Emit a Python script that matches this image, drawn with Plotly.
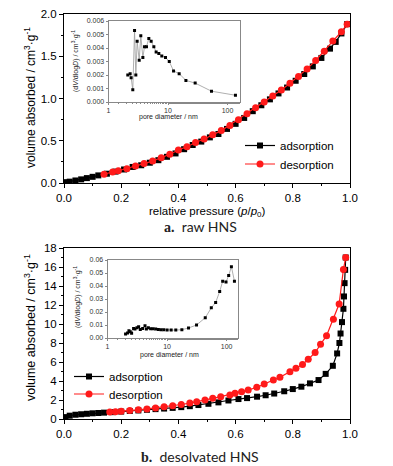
import plotly.graph_objects as go

W, H = 393, 466

# ---- data: raw HNS isotherm ----
top_ads_p = [0.01, 0.02, 0.04, 0.06, 0.08, 0.10, 0.12, 0.15, 0.18, 0.21, 0.24, 0.27, 0.30, 0.33,
             0.36, 0.39, 0.42, 0.45, 0.48, 0.51, 0.54, 0.57, 0.60, 0.63, 0.66, 0.69, 0.72, 0.75,
             0.78, 0.81, 0.84, 0.87, 0.90, 0.93, 0.95, 0.97, 0.99]
top_ads_v = [0.01, 0.016, 0.03, 0.043, 0.058, 0.073, 0.09, 0.11, 0.135, 0.16, 0.19, 0.21, 0.24, 0.27,
             0.31, 0.35, 0.40, 0.45, 0.49, 0.54, 0.58, 0.64, 0.70, 0.77, 0.85, 0.92, 0.99, 1.06,
             1.13, 1.21, 1.29, 1.38, 1.48, 1.59, 1.67, 1.77, 1.88]
top_des_p = [0.99, 0.97, 0.94, 0.91, 0.88, 0.85, 0.82, 0.79, 0.76, 0.73, 0.70, 0.67, 0.64, 0.61,
             0.58, 0.55, 0.52, 0.49, 0.46, 0.43, 0.40, 0.37, 0.34, 0.31, 0.28, 0.25, 0.22, 0.19,
             0.17, 0.14]
top_des_v = [1.88, 1.79, 1.68, 1.56, 1.45, 1.35, 1.26, 1.18, 1.10, 1.03, 0.96, 0.89, 0.82, 0.75,
             0.68, 0.62, 0.57, 0.52, 0.48, 0.43, 0.39, 0.34, 0.30, 0.26, 0.23, 0.20, 0.17, 0.145,
             0.13, 0.105]

# ---- data: desolvated HNS isotherm ----
bot_ads_p = [0.005, 0.02, 0.04, 0.06, 0.08, 0.10, 0.12, 0.14, 0.17, 0.20, 0.23, 0.26, 0.29, 0.32,
             0.35, 0.38, 0.41, 0.44, 0.47, 0.505, 0.54, 0.575, 0.61, 0.64, 0.675, 0.705, 0.735,
             0.77, 0.80, 0.83, 0.86, 0.89, 0.915, 0.94, 0.955, 0.963, 0.967, 0.972, 0.977, 0.979,
             0.981, 0.983, 0.985]
bot_ads_v = [0.2, 0.35, 0.45, 0.5, 0.55, 0.6, 0.63, 0.67, 0.72, 0.78, 0.84, 0.9, 0.97, 1.04,
             1.1, 1.17, 1.25, 1.35, 1.47, 1.6, 1.75, 1.95, 2.1, 2.2, 2.35, 2.5, 2.68,
             2.92, 3.15, 3.4, 3.75, 4.1, 4.75, 5.6, 6.9, 8.0, 9.0, 10.2, 11.6, 12.9,
             14.3, 15.7, 17.0]
bot_des_p = [0.985, 0.977, 0.962, 0.942, 0.918, 0.897, 0.878, 0.854, 0.834, 0.811, 0.79, 0.755,
             0.732, 0.70, 0.674, 0.644, 0.621, 0.598, 0.58, 0.548, 0.52, 0.493, 0.464, 0.44,
             0.41, 0.38, 0.35, 0.32, 0.29, 0.26, 0.23, 0.20, 0.18, 0.16]
bot_des_v = [17.0, 15.75, 12.1, 10.5, 8.77, 7.86, 7.0, 6.28, 5.75, 5.33, 4.98, 4.39,
             4.1, 3.68, 3.33, 3.05, 2.88, 2.7, 2.53, 2.35, 2.18, 2.0, 1.82, 1.68,
             1.53, 1.4, 1.28, 1.16, 1.06, 0.97, 0.89, 0.82, 0.77, 0.74]

# ---- data: pore size distributions (insets) ----
top_pd = [2.11, 2.31, 2.40, 2.56, 2.74, 2.88, 3.03, 3.28, 3.49, 3.78, 4.03, 4.35, 4.76, 5.21,
          5.78, 6.32, 7.01, 7.87, 9.08, 10.5, 12.4, 15.4, 20.0, 28.6, 53.8, 136]
top_dv = [0.0020, 0.0021, 0.0018, 0.0009, 0.0053, 0.0020, 0.0045, 0.0031, 0.0049, 0.0033,
          0.0041, 0.0041, 0.0047, 0.0045, 0.0041, 0.0037, 0.0036, 0.0034, 0.0033, 0.0030,
          0.0023, 0.0021, 0.0016, 0.0014, 0.0008, 0.0005]
bot_pd = [2.01, 2.17, 2.29, 2.41, 2.54, 2.74, 2.89, 3.12, 3.33, 3.55, 3.89, 4.26, 4.49, 4.85,
          5.30, 5.81, 6.44, 7.14, 7.92, 8.79, 10.0, 11.7, 14.0, 17.7, 22.9, 31.2, 43.7, 55.2,
          65.3, 76.3, 85.7, 97.5, 108, 120, 135]
bot_dv = [0.0031, 0.0038, 0.0056, 0.0049, 0.0036, 0.0074, 0.0069, 0.0079, 0.0087, 0.0066,
          0.0074, 0.0094, 0.0069, 0.0079, 0.0071, 0.0071, 0.0069, 0.0066, 0.0064, 0.0064,
          0.0061, 0.0061, 0.0061, 0.0064, 0.0077, 0.0100, 0.0156, 0.0232, 0.0273, 0.0357,
          0.0437, 0.0431, 0.0480, 0.0549, 0.0437]

x_ticks = [0.0, 0.2, 0.4, 0.6, 0.8, 1.0]
inset_x_ticks = [1, 10, 100]
inset_x_text = ["1", "10", "100"]

FONT = "Liberation Sans, Arial, sans-serif"

def px_x(p):
    return p / W

def px_y(p):
    return 1 - p / H

fig = go.Figure()

fig.add_trace(go.Scatter(x=top_ads_p, y=top_ads_v, mode="lines+markers", name="adsorption",
                         line=dict(color="black", width=1.2),
                         marker=dict(symbol="square", size=6, color="black"),
                         xaxis="x", yaxis="y", legend="legend"))
fig.add_trace(go.Scatter(x=top_des_p, y=top_des_v, mode="lines+markers", name="desorption",
                         line=dict(color="#ff1a1a", width=1.2),
                         marker=dict(symbol="circle", size=7, color="#ff1a1a"),
                         xaxis="x", yaxis="y", legend="legend3"))
fig.add_trace(go.Scatter(x=bot_ads_p, y=bot_ads_v, mode="lines+markers", name="adsorption",
                         line=dict(color="black", width=1.2),
                         marker=dict(symbol="square", size=6, color="black"),
                         xaxis="x2", yaxis="y2", legend="legend2"))
fig.add_trace(go.Scatter(x=bot_des_p, y=bot_des_v, mode="lines+markers", name="desorption",
                         line=dict(color="#ff1a1a", width=1.2),
                         marker=dict(symbol="circle", size=7, color="#ff1a1a"),
                         xaxis="x2", yaxis="y2", legend="legend4"))

fig.add_trace(go.Scatter(x=top_pd, y=top_dv, mode="lines+markers", showlegend=False,
                         line=dict(color="#9a9a9a", width=0.8),
                         marker=dict(symbol="square", size=3, color="black"),
                         xaxis="x3", yaxis="y3"))
fig.add_trace(go.Scatter(x=bot_pd, y=bot_dv, mode="lines+markers", showlegend=False,
                         line=dict(color="#9a9a9a", width=0.8),
                         marker=dict(symbol="square", size=3, color="black"),
                         xaxis="x4", yaxis="y4"))

def main_axis(domain, rng, tickvals, fmt, minor_dtick, anchor):
    return dict(domain=domain, range=rng, tickvals=tickvals, tickformat=fmt,
                showline=True, linecolor="black", linewidth=1, mirror=True,
                ticks="outside", ticklen=4, tickcolor="black", tickwidth=1,
                minor=dict(ticks="outside", ticklen=2, dtick=minor_dtick, tickcolor="black"),
                tickfont=dict(size=11.5, family=FONT, color="black"),
                showgrid=False, zeroline=False, anchor=anchor, automargin=False)

def inset_xaxis(domain, rng, anchor):
    return dict(domain=domain, type="log", range=rng, tickvals=inset_x_ticks,
                ticktext=inset_x_text, showline=True, linecolor="#888888", linewidth=0.8,
                mirror=True, ticks="outside", ticklen=2, tickcolor="#888888",
                minor=dict(ticks="outside", ticklen=1.5, tickcolor="#888888"),
                tickfont=dict(size=7, family=FONT, color="#333333"),
                showgrid=False, zeroline=False, anchor=anchor, automargin=False)

def inset_yaxis(domain, rng, dtick, fmt, anchor):
    return dict(domain=domain, range=rng, dtick=dtick, tickformat=fmt,
                showline=True, linecolor="#888888", linewidth=0.8, mirror=True,
                ticks="outside", ticklen=2, tickcolor="#888888",
                tickfont=dict(size=7, family=FONT, color="#333333"),
                showgrid=False, zeroline=False, anchor=anchor, automargin=False)

def legend_at(xp, yp):
    return dict(x=px_x(xp), y=px_y(yp), xanchor="left", yanchor="middle",
                bgcolor="rgba(0,0,0,0)", font=dict(size=11.5, family=FONT),
                itemwidth=30, tracegroupgap=0)

main_x_dom = [px_x(64), px_x(350)]
fig.update_layout(
    xaxis=main_axis(main_x_dom, [0, 1.0], x_ticks, ".1f", 0.1, "y"),
    yaxis=main_axis([px_y(183), px_y(14)], [0, 2.0], [0, 0.5, 1.0, 1.5, 2.0], ".1f", 0.25, "x"),
    xaxis2=main_axis(main_x_dom, [0, 1.0], x_ticks, ".1f", 0.1, "y2"),
    yaxis2=main_axis([px_y(419), px_y(248)], [0, 18], list(range(0, 19, 2)), "d", 1, "x2"),
    xaxis3=inset_xaxis([px_x(108.5), px_x(240)], [0, 2.21], "y3"),
    yaxis3=inset_yaxis([px_y(102), px_y(21)], [0, 0.006], 0.001, ".3f", "x3"),
    xaxis4=inset_xaxis([px_x(107.5), px_x(238)], [0, 2.19], "y4"),
    yaxis4=inset_yaxis([px_y(338), px_y(260)], [0, 0.06], 0.01, ".2f", "x4"),
    width=W, height=H, autosize=False,
    margin=dict(l=0, r=0, t=0, b=0, pad=0),
    paper_bgcolor="white", plot_bgcolor="white",
    font=dict(family=FONT, color="black"),
    legend=legend_at(240, 145.5),
    legend3=legend_at(240, 164),
    legend2=legend_at(69, 376.5),
    legend4=legend_at(69, 394),
)

def note(text, xp, yp, size, angle=0, color="black", family=FONT):
    return dict(text=text, x=px_x(xp), y=px_y(yp), xref="paper", yref="paper",
                xanchor="center", yanchor="middle", showarrow=False, textangle=angle,
                font=dict(size=size, family=family, color=color))

ytitle = "volume absorbed / cm<sup>3</sup>·g<sup>-1</sup>"
inset_ytitle = "(d<i>V</i>/dlog<i>D</i>) / cm<sup>3</sup>·g<sup>-1</sup>"
ann = [
    note(ytitle, 30, 98, 12, -90),
    note(ytitle, 30, 328, 12.5, -90),
    note("relative pressure (<i>p</i>/<i>p</i><sub>0</sub>)", 207, 212, 11.5),
    note(inset_ytitle, 76, 61, 7, -90, "#222222"),
    note(inset_ytitle, 77, 297, 7, -90, "#222222"),
    note("pore diameter / nm", 168, 117, 7, 0, "#222222"),
    note("pore diameter / nm", 169, 355, 7, 0, "#222222"),
    note('<b><span style="font-family:Liberation Serif">a.</span></b>  raw HNS', 201, 227, 14,
         0, "#222222", "Lato, Open Sans, sans-serif"),
    note('<b><span style="font-family:Liberation Serif">b.</span></b>  desolvated HNS', 200, 456, 14,
         0, "#222222", "Lato, Open Sans, sans-serif"),
]
fig.update_layout(annotations=ann)

fig.write_html("out.html", config={"displayModeBar": False},
               post_script="document.body.style.margin='0';")
